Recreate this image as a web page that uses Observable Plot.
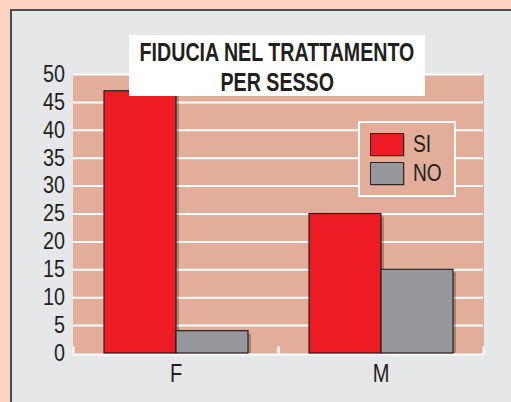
<!DOCTYPE html>
<html><head><meta charset="utf-8">
<script src="https://cdn.jsdelivr.net/npm/d3@7"></script>
<script src="https://cdn.jsdelivr.net/npm/@observablehq/plot@0.6"></script>
<style>
html,body{margin:0;padding:0;}
body{width:511px;height:402px;background:#FDD4C2;position:relative;overflow:hidden;font-family:"Liberation Sans",Arial,sans-serif;color:#231f20;}
#panel{position:absolute;left:10px;top:9px;width:540px;height:440px;background:#E6E7E8;border:2px solid #4d4d4f;box-sizing:border-box;}
#chart{position:absolute;left:0;top:0;}
#title{position:absolute;left:129px;top:35px;width:296px;height:61px;background:#fff;font-weight:bold;font-size:25px;line-height:30px;padding-top:2px;box-sizing:border-box;display:flex;flex-direction:column;align-items:center;}
#title span{display:block;white-space:nowrap;transform:scaleX(0.785);transform-origin:center;}
#legend{position:absolute;left:358px;top:121px;width:98px;height:76px;border:2px solid #fff;background:#E3AE99;box-sizing:border-box;}
.sw{position:absolute;left:10px;width:34px;height:23px;border:1.5px solid #2a2526;box-sizing:border-box;box-shadow:1px 1px 0 rgba(0,0,0,0.2);}
.lb{position:absolute;left:53px;font-size:24px;line-height:28px;white-space:nowrap;transform:scaleX(0.8);transform-origin:left center;}
</style>
</head><body>
<div id="panel"></div>
<div id="chart"></div>
<div id="title"><span>FIDUCIA NEL TRATTAMENTO</span><span>PER SESSO</span></div>
<div id="legend"></div>
<script>
const sexes = ["F", "M"];
const responses = ["SI", "NO"];
const siValues = [47, 25];
const noValues = [4, 15];
const yTicks = [0, 5, 10, 15, 20, 25, 30, 35, 40, 45, 50];
const colors = ["#ED1C24", "#97989B"];

const rows = sexes.flatMap((s, i) => [
  {sex: s, resp: responses[0], value: siValues[i]},
  {sex: s, resp: responses[1], value: noValues[i]}
]);

const salmon = "#E3AE99";
const ink = "#231f20";

const chart = Plot.plot({
  width: 511,
  height: 402,
  marginLeft: 72,
  marginRight: 28,
  marginTop: 74,
  marginBottom: 49,
  style: {background: "transparent", fontFamily: '"Liberation Sans",Arial,sans-serif', fontSize: "23px", color: ink},
  fx: {domain: sexes, padding: 0, label: null, axis: "bottom", tickSize: 0, tickPadding: 10.5},
  x: {domain: responses, paddingInner: 0, paddingOuter: 0.42, axis: null},
  y: {domain: [0, 50], ticks: yTicks, label: null, tickSize: 0, tickPadding: 8.5},
  color: {domain: responses, range: colors},
  marks: [
    Plot.frame({fill: salmon, stroke: salmon, strokeWidth: 1}),
    Plot.ruleY(yTicks.filter(d => d > 0), {stroke: "white", strokeWidth: 2}),
    Plot.ruleY([0], {stroke: "white", strokeWidth: 2, dy: 1}),
    Plot.barY(rows, {fx: "sex", x: "resp", y: "value", fill: "#000", fillOpacity: 0.25, dx: 3, dy: 3, clip: true}),
    Plot.barY(rows, {fx: "sex", x: "resp", y: "value", fill: "resp", stroke: ink, strokeWidth: 1.2}),
    Plot.frame({anchor: "left", stroke: "white", strokeWidth: 2, insetTop: 273}),
    Plot.frame({anchor: "right", stroke: "white", strokeWidth: 2, insetTop: 273})
  ]
});
document.getElementById("chart").appendChild(chart);

// condense axis text (narrow typeface look), keeping each text's own position
d3.select(chart).selectAll("text").each(function() {
  const anchor = getComputedStyle(this).textAnchor;
  if (anchor === "middle") this.setAttribute("font-size", 25);
  const b = this.getBBox();
  const s = anchor === "middle" ? 0.8 : 0.86;
  const cx = anchor === "end" ? b.x + b.width : anchor === "middle" ? b.x + b.width / 2 : b.x;
  const prev = this.getAttribute("transform") || "";
  this.setAttribute("transform", `${prev} translate(${cx},0) scale(${s},1) translate(${-cx},0)`);
});

const legend = document.getElementById("legend");
responses.forEach((r, i) => {
  const sw = document.createElement("div");
  sw.className = "sw";
  sw.style.top = (10 + i * 29) + "px";
  sw.style.background = colors[i];
  legend.appendChild(sw);
  const lb = document.createElement("div");
  lb.className = "lb";
  lb.style.top = (7 + i * 29) + "px";
  lb.textContent = r;
  legend.appendChild(lb);
});
</script>
</body></html>
